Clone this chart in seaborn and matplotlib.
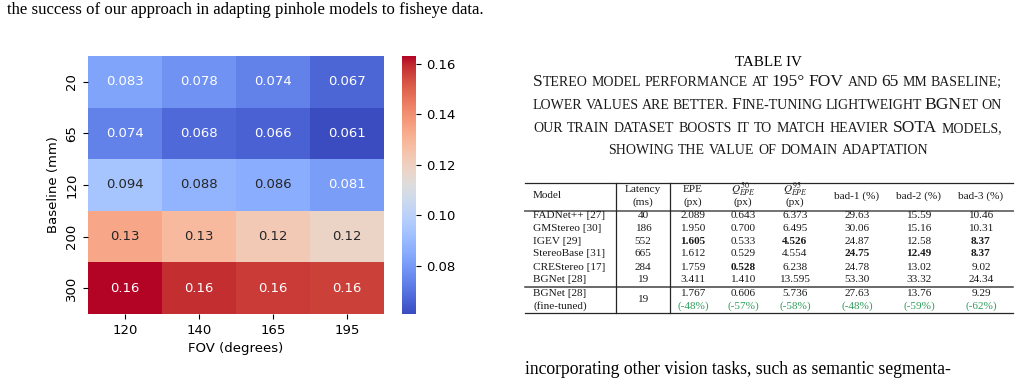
import numpy as np
import pandas as pd
import seaborn as sns
import matplotlib
matplotlib.use("Agg")
from matplotlib import pyplot as plt
from matplotlib.lines import Line2D
from matplotlib.offsetbox import TextArea, HPacker, AnnotationBbox

#### heatmap data: EPE by baseline (rows) and FOV (cols)
fov = [120, 140, 165, 195]
baseline = [20, 65, 120, 200, 300]
epe_b20 = [0.083, 0.078, 0.074, 0.067]
epe_b65 = [0.074, 0.068, 0.066, 0.061]
epe_b120 = [0.094, 0.088, 0.086, 0.081]
epe_b200 = [0.134, 0.128, 0.123, 0.118]
epe_b300 = [0.163, 0.159, 0.157, 0.156]

#### table IV
models = ["FADNet++ [27]", "GMStereo [30]", "IGEV [29]", "StereoBase [31]", "CREStereo [17]", "BGNet [28]"]
latency = [40, 186, 552, 665, 284, 19]
epe = [2.089, 1.950, 1.605, 1.612, 1.759, 3.411]
q50 = [0.643, 0.700, 0.533, 0.529, 0.528, 1.410]
q95 = [6.373, 6.495, 4.526, 4.554, 6.238, 13.595]
bad1 = [29.63, 30.06, 24.87, 24.75, 24.78, 53.30]
bad2 = [15.59, 15.16, 12.58, 12.49, 13.02, 33.32]
bad3 = [10.46, 10.31, 8.37, 8.37, 9.02, 24.34]
ft_latency = 19
ft_values = [1.767, 0.606, 5.736, 27.63, 13.76, 9.29]
ft_change = [-48, -57, -58, -48, -59, -62]

W, H = 1020, 379
def fx(x): return x / W
def fy(y): return 1 - y / H

plt.rcParams['mathtext.fontset'] = 'stix'
SERIF = "Liberation Serif"

fig = plt.figure(figsize=(10.2, 3.79), dpi=100)

df = pd.DataFrame([epe_b20, epe_b65, epe_b120, epe_b200, epe_b300], index=baseline, columns=fov)
ax = fig.add_axes([fx(88), fy(314), (384 - 88) / W, (314 - 56) / H])
cax = fig.add_axes([fx(402), fy(314), 14 / W, (314 - 56) / H])
sns.heatmap(df, annot=True, cmap="coolwarm", ax=ax, cbar_ax=cax, annot_kws={"size": 9.5})
ax.set_xlabel("FOV (degrees)", fontsize=9.5)
ax.set_ylabel("Baseline (mm)", fontsize=9.5)
ax.tick_params(labelsize=9.5)
plt.setp(ax.get_yticklabels(), rotation=90, va="center")
cax.tick_params(labelsize=9.5)

#### page text around the figure
fig.text(fx(7), fy(10), "the success of our approach in adapting pinhole models to fisheye data.",
         family=SERIF, size=12.1, va="center")
fig.text(fx(525), fy(369), "incorporating other vision tasks, such as semantic segmenta-",
         family=SERIF, size=12.7, va="center")

fig.text(fx(768), fy(62), "TABLE IV", family=SERIF, size=10.8, ha="center", va="center")

def sc_word(word, big=12.6, small=10.0):
    runs = []
    for ch in word:
        if not ch.isalnum() and runs:   # punctuation stays with the run before it
            runs[-1][0] += ch
            continue
        sz = small if ch.islower() else big
        if runs and runs[-1][1] == sz:
            runs[-1][0] += ch.upper()
        else:
            runs.append([ch.upper(), sz])
    boxes = [TextArea(t, textprops=dict(size=s, family=SERIF, color="0.1")) for t, s in runs]
    return HPacker(children=boxes, align="baseline", pad=0, sep=0)

def smallcaps(text, y, justify=True):
    words = [sc_word(w) for w in text.split()]
    if justify:   # caption lines are justified between the table edges
        pack = HPacker(children=words, align="baseline", pad=0, width=1002 - 533, mode="expand")
        xy, align = (fx(533), fy(y)), (0, 0.5)
    else:
        pack = HPacker(children=words, align="baseline", pad=0, sep=3.0)
        xy, align = (fx(768), fy(y)), (0.5, 0.5)
    ab = AnnotationBbox(pack, xy, xycoords="figure fraction", frameon=False, box_alignment=align, pad=0)
    fig.add_artist(ab)

smallcaps("Stereo model performance at 195° FOV and 65 mm baseline;", 82)
smallcaps("lower values are better. Fine-tuning lightweight BGNet on", 105)
smallcaps("our train dataset boosts it to match heavier SOTA models,", 128)
smallcaps("showing the value of domain adaptation", 151, justify=False)

def hline(y, lw=0.9, color="0.15"):
    fig.add_artist(Line2D([fx(525), fx(1013)], [fy(y), fy(y)], transform=fig.transFigure, lw=lw, color=color))

def vline(x):
    fig.add_artist(Line2D([fx(x), fx(x)], [fy(183), fy(313)], transform=fig.transFigure, lw=0.9, color="0.15"))

hline(183)
hline(211, lw=1.4, color="0.45")
hline(287, lw=1.1, color="0.25")
hline(313)
vline(616)
vline(670)

def cell(x, y, s, ha="center", weight="normal", color="0.1"):
    fig.text(fx(x), fy(y), s, family=SERIF, size=8.1, ha=ha, va="center", weight=weight, color=color)

cols_x = [693, 743, 795, 857, 919, 981]
cell(533, 196, "Model", ha="left")
cell(643, 189, "Latency")
cell(643, 202, "(ms)")
cell(693, 189, "EPE")
cell(743, 189, r"$Q^{50}_{EPE}$")
cell(795, 189, r"$Q^{95}_{EPE}$")
for x in cols_x[:3]:
    cell(x, 202, "(px)")
cell(857, 196, "bad-1 (%)")
cell(919, 196, "bad-2 (%)")
cell(981, 196, "bad-3 (%)")

columns = [epe, q50, q95, bad1, bad2, bad3]
fmts = ["{:.3f}", "{:.3f}", "{:.3f}", "{:.2f}", "{:.2f}", "{:.2f}"]
row_y = [215, 228, 241, 254, 267, 279]
for i, name in enumerate(models):
    y = row_y[i]
    cell(533, y, name, ha="left")
    cell(643, y, str(latency[i]))
    for j, col in enumerate(columns):
        best = min(col[:5])
        w = "bold" if col[i] == best and i < 5 else "normal"
        cell(cols_x[j], y, fmts[j].format(col[i]), weight=w)

cell(533, 293, "BGNet [28]", ha="left")
cell(533, 306, "(fine-tuned)", ha="left")
cell(643, 300, str(ft_latency))
for j, v in enumerate(ft_values):
    cell(cols_x[j], 293, fmts[j].format(v))
    cell(cols_x[j], 306, "({}%)".format(ft_change[j]), color="#2e9e5b")

fig.savefig("out.png", dpi=100)
